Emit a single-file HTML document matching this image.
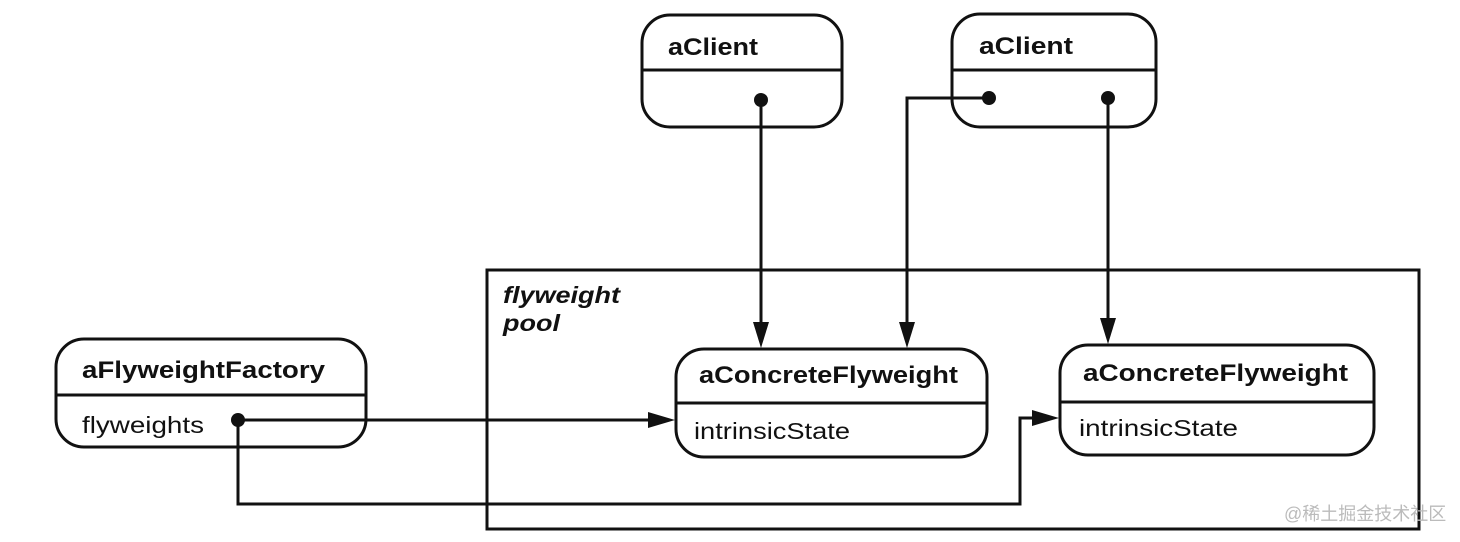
<!DOCTYPE html>
<html><head><meta charset="utf-8"><style>
html,body{margin:0;padding:0;background:#fff;}
svg{display:block;}
text{font-family:"Liberation Sans",Arial,sans-serif;fill:#111;}
.b{font-weight:bold;font-size:24px;}
.n{font-size:23px;}
</style></head><body>
<svg width="1460" height="542" viewBox="0 0 1460 542" xmlns="http://www.w3.org/2000/svg">
<g fill="none" stroke="#111" stroke-width="3">
  <rect x="487" y="270" width="932" height="259"/>
  <rect x="642" y="15" width="200" height="112" rx="28"/>
  <line x1="642" y1="70" x2="842" y2="70"/>
  <rect x="952" y="14" width="204" height="113" rx="28"/>
  <line x1="952" y1="70" x2="1156" y2="70"/>
  <rect x="56" y="339" width="310" height="108" rx="28"/>
  <line x1="56" y1="395" x2="366" y2="395"/>
  <rect x="676" y="349" width="311" height="108" rx="28"/>
  <line x1="676" y1="403" x2="987" y2="403"/>
  <rect x="1060" y="345" width="314" height="110" rx="28"/>
  <line x1="1060" y1="402" x2="1374" y2="402"/>
  <polyline points="761,100 761,330"/>
  <polyline points="989,98 907,98 907,330"/>
  <polyline points="1108,98 1108,325"/>
  <polyline points="238,420 655,420"/>
  <polyline points="238,420 238,504 1020,504 1020,418 1040,418"/>
</g>
<g fill="#111">
  <circle cx="761" cy="100" r="7"/>
  <circle cx="989" cy="98" r="7"/>
  <circle cx="1108" cy="98" r="7"/>
  <circle cx="238" cy="420" r="7"/>
  <polygon points="753,322 769,322 761,348"/>
  <polygon points="899,322 915,322 907,348"/>
  <polygon points="1100,318 1116,318 1108,344"/>
  <polygon points="648,412 648,428 675,420"/>
  <polygon points="1032,410 1032,426 1059,418"/>
</g>
<text class="b" x="668" y="55" textLength="90" lengthAdjust="spacingAndGlyphs">aClient</text>
<text class="b" x="979" y="54" textLength="94" lengthAdjust="spacingAndGlyphs">aClient</text>
<text class="b" x="82" y="378" textLength="243" lengthAdjust="spacingAndGlyphs">aFlyweightFactory</text>
<text class="n" x="82" y="433" textLength="122" lengthAdjust="spacingAndGlyphs">flyweights</text>
<text class="b" x="699" y="383" textLength="259" lengthAdjust="spacingAndGlyphs">aConcreteFlyweight</text>
<text class="n" x="694" y="439" textLength="156" lengthAdjust="spacingAndGlyphs">intrinsicState</text>
<text class="b" x="1083" y="381" textLength="265" lengthAdjust="spacingAndGlyphs">aConcreteFlyweight</text>
<text class="n" x="1079" y="436" textLength="159" lengthAdjust="spacingAndGlyphs">intrinsicState</text>
<text x="503" y="303" textLength="117" lengthAdjust="spacingAndGlyphs" style="font-style:italic;font-weight:bold;font-size:23px">flyweight</text>
<text x="503" y="331" textLength="57" lengthAdjust="spacingAndGlyphs" style="font-style:italic;font-weight:bold;font-size:23px">pool</text>
<text x="1284" y="520" style="font-family:'Liberation Sans','Noto Sans CJK SC',sans-serif;font-size:18px;fill:#bbb">@稀土掘金技术社区</text>
</svg>
</body></html>
